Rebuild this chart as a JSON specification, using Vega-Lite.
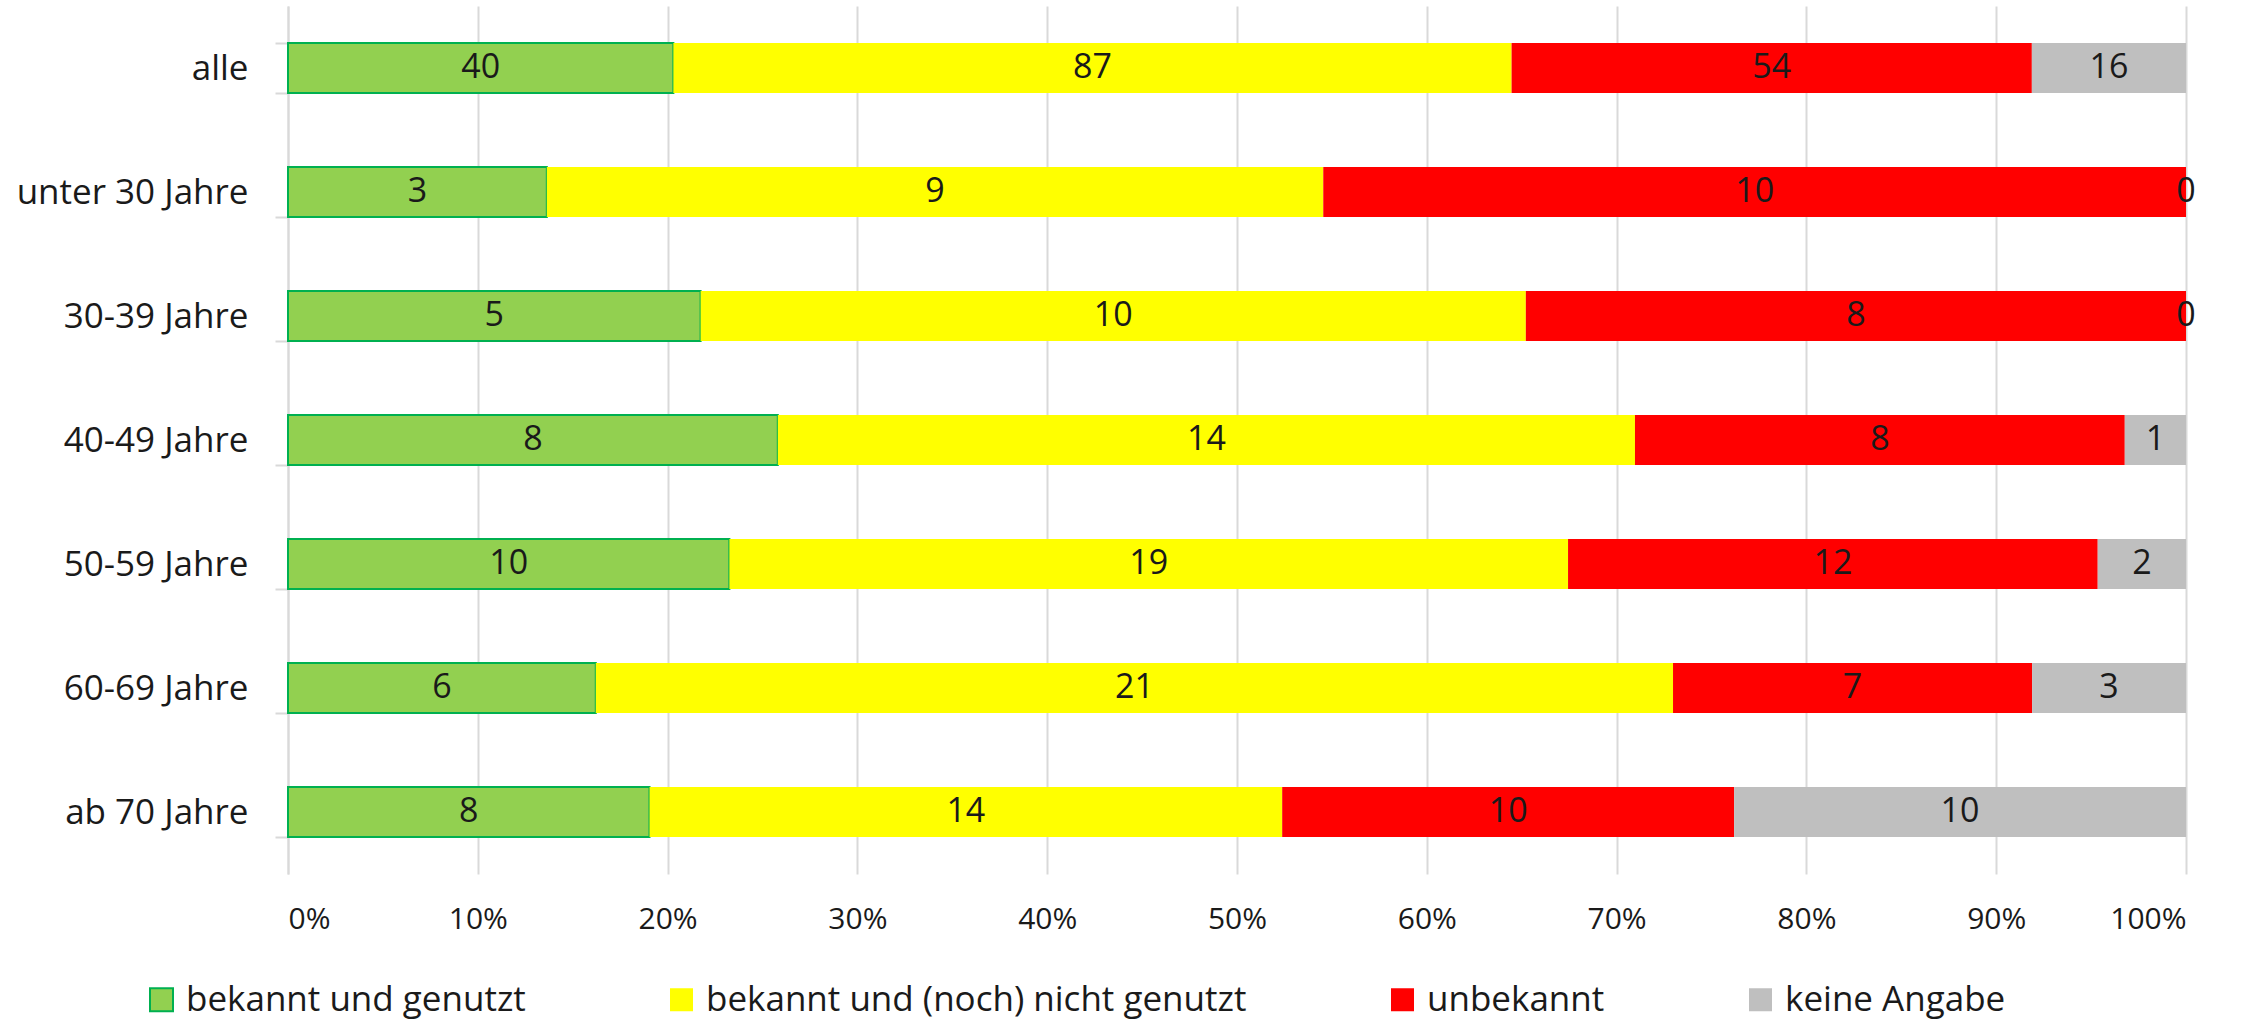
{
  "$schema": "https://vega.github.io/schema/vega-lite/v6.json",
  "width": 1898,
  "height": 868,
  "autosize": {"type": "none"},
  "padding": {"left": 288, "top": 6, "right": 65, "bottom": 147},
  "background": "white",
  "config": {"view": {"stroke": null}, "font": "Open Sans"},
  "data": {
    "values": [
      {"Gruppe": "alle", "Nr": 1, "Antwort": "bekannt und genutzt", "Anzahl": 40},
      {"Gruppe": "alle", "Nr": 2, "Antwort": "bekannt und (noch) nicht genutzt", "Anzahl": 87},
      {"Gruppe": "alle", "Nr": 3, "Antwort": "unbekannt", "Anzahl": 54},
      {"Gruppe": "alle", "Nr": 4, "Antwort": "keine Angabe", "Anzahl": 16},
      {"Gruppe": "unter 30 Jahre", "Nr": 1, "Antwort": "bekannt und genutzt", "Anzahl": 3},
      {"Gruppe": "unter 30 Jahre", "Nr": 2, "Antwort": "bekannt und (noch) nicht genutzt", "Anzahl": 9},
      {"Gruppe": "unter 30 Jahre", "Nr": 3, "Antwort": "unbekannt", "Anzahl": 10},
      {"Gruppe": "unter 30 Jahre", "Nr": 4, "Antwort": "keine Angabe", "Anzahl": 0},
      {"Gruppe": "30-39 Jahre", "Nr": 1, "Antwort": "bekannt und genutzt", "Anzahl": 5},
      {"Gruppe": "30-39 Jahre", "Nr": 2, "Antwort": "bekannt und (noch) nicht genutzt", "Anzahl": 10},
      {"Gruppe": "30-39 Jahre", "Nr": 3, "Antwort": "unbekannt", "Anzahl": 8},
      {"Gruppe": "30-39 Jahre", "Nr": 4, "Antwort": "keine Angabe", "Anzahl": 0},
      {"Gruppe": "40-49 Jahre", "Nr": 1, "Antwort": "bekannt und genutzt", "Anzahl": 8},
      {"Gruppe": "40-49 Jahre", "Nr": 2, "Antwort": "bekannt und (noch) nicht genutzt", "Anzahl": 14},
      {"Gruppe": "40-49 Jahre", "Nr": 3, "Antwort": "unbekannt", "Anzahl": 8},
      {"Gruppe": "40-49 Jahre", "Nr": 4, "Antwort": "keine Angabe", "Anzahl": 1},
      {"Gruppe": "50-59 Jahre", "Nr": 1, "Antwort": "bekannt und genutzt", "Anzahl": 10},
      {"Gruppe": "50-59 Jahre", "Nr": 2, "Antwort": "bekannt und (noch) nicht genutzt", "Anzahl": 19},
      {"Gruppe": "50-59 Jahre", "Nr": 3, "Antwort": "unbekannt", "Anzahl": 12},
      {"Gruppe": "50-59 Jahre", "Nr": 4, "Antwort": "keine Angabe", "Anzahl": 2},
      {"Gruppe": "60-69 Jahre", "Nr": 1, "Antwort": "bekannt und genutzt", "Anzahl": 6},
      {"Gruppe": "60-69 Jahre", "Nr": 2, "Antwort": "bekannt und (noch) nicht genutzt", "Anzahl": 21},
      {"Gruppe": "60-69 Jahre", "Nr": 3, "Antwort": "unbekannt", "Anzahl": 7},
      {"Gruppe": "60-69 Jahre", "Nr": 4, "Antwort": "keine Angabe", "Anzahl": 3},
      {"Gruppe": "ab 70 Jahre", "Nr": 1, "Antwort": "bekannt und genutzt", "Anzahl": 8},
      {"Gruppe": "ab 70 Jahre", "Nr": 2, "Antwort": "bekannt und (noch) nicht genutzt", "Anzahl": 14},
      {"Gruppe": "ab 70 Jahre", "Nr": 3, "Antwort": "unbekannt", "Anzahl": 10},
      {"Gruppe": "ab 70 Jahre", "Nr": 4, "Antwort": "keine Angabe", "Anzahl": 10}
    ]
  },
  "encoding": {
    "y": {
      "field": "Gruppe",
      "type": "nominal",
      "sort": ["alle", "unter 30 Jahre", "30-39 Jahre", "40-49 Jahre", "50-59 Jahre", "60-69 Jahre", "ab 70 Jahre"],
      "scale": {"paddingInner": 0.597, "paddingOuter": 0.2985},
      "axis": {
        "title": null,
        "labelFontSize": 35,
        "labelFont": "Open Sans",
        "labelColor": "#1a1a1a",
        "labelPadding": 27,
        "labelLimit": 500,
        "tickSize": 13,
        "tickColor": "#d9d9d9",
        "tickWidth": 2,
        "tickBand": "extent",
        "domainColor": "#d9d9d9",
        "domainWidth": 2,
        "grid": false
      }
    },
    "order": {"field": "Nr", "type": "quantitative", "sort": "ascending"}
  },
  "layer": [
    {
      "mark": {"type": "bar", "strokeWidth": 2},
      "encoding": {
        "x": {
          "field": "Anzahl",
          "type": "quantitative",
          "stack": "normalize",
          "scale": {"domain": [0, 1]},
          "axis": {
            "title": null,
            "format": "%",
            "values": [0, 0.1, 0.2, 0.3, 0.4, 0.5, 0.6, 0.7, 0.8, 0.9, 1],
            "labelFontSize": 30,
            "labelFont": "Open Sans",
            "labelColor": "#1a1a1a",
            "ticks": false,
            "tickSize": 0,
            "domain": false,
            "grid": true,
            "gridColor": "#d9d9d9",
            "gridWidth": 2,
            "labelBaseline": "middle",
            "labelPadding": 45
          }
        },
        "color": {
          "field": "Antwort",
          "type": "nominal",
          "sort": ["bekannt und genutzt", "bekannt und (noch) nicht genutzt", "unbekannt", "keine Angabe"],
          "scale": {
            "domain": ["bekannt und genutzt", "bekannt und (noch) nicht genutzt", "unbekannt", "keine Angabe"],
            "range": ["#92D050", "#FFFF00", "#FF0000", "#BFBFBF"]
          },
          "legend": {
            "title": null,
            "orient": "none",
            "legendX": -144,
            "legendY": 976,
            "direction": "horizontal",
            "columns": 4,
            "columnPadding": 138,
            "padding": 0,
            "symbolType": "square",
            "symbolSize": 529,
            "symbolStrokeWidth": 2,
            "symbolOpacity": 1,
            "labelFontSize": 35,
            "labelFont": "Open Sans",
            "labelColor": "#1a1a1a",
            "labelOffset": 7,
            "labelLimit": 1000
          }
        },
        "stroke": {
          "field": "Antwort",
          "type": "nominal",
          "sort": ["bekannt und genutzt", "bekannt und (noch) nicht genutzt", "unbekannt", "keine Angabe"],
          "scale": {
            "domain": ["bekannt und genutzt", "bekannt und (noch) nicht genutzt", "unbekannt", "keine Angabe"],
            "range": ["#00B050", "transparent", "transparent", "transparent"]
          },
          "legend": null
        }
      }
    },
    {
      "mark": {"type": "text", "fontSize": 34, "font": "Open Sans", "baseline": "middle", "align": "center"},
      "encoding": {
        "x": {"field": "Anzahl", "type": "quantitative", "stack": "normalize", "bandPosition": 0.5},
        "detail": {"field": "Antwort", "type": "nominal"},
        "fill": {"value": "#1a1a1a"},
        "text": {"field": "Anzahl", "type": "quantitative"}
      }
    }
  ]
}
